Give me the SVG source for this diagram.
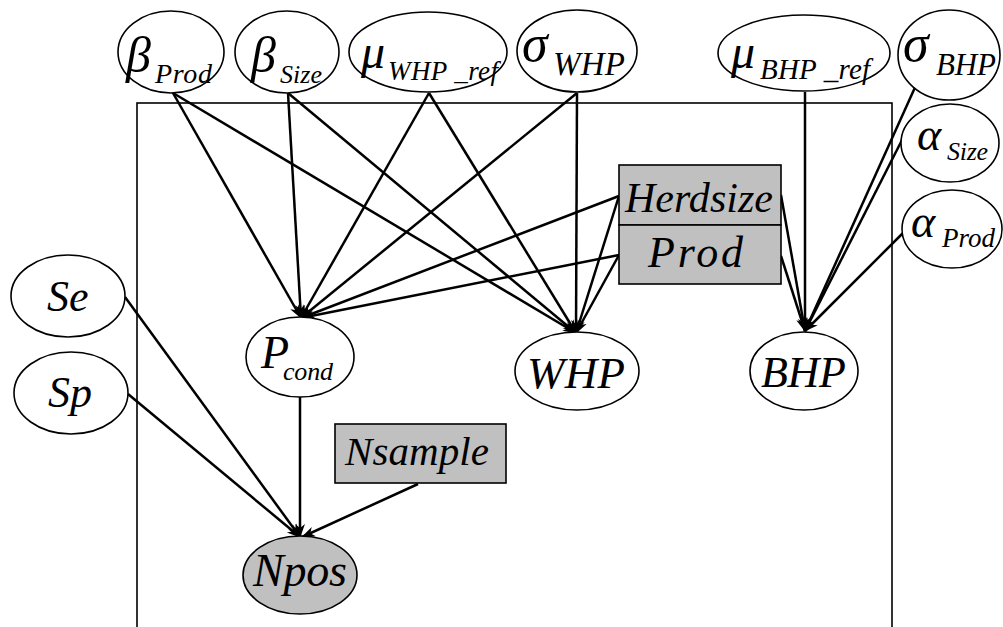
<svg xmlns="http://www.w3.org/2000/svg" width="1003" height="627" viewBox="0 0 1003 627" font-family="Liberation Serif, Times New Roman, serif" font-style="italic">
<style>
.n{fill:#fff;stroke:#000;stroke-width:1.6}
.g{fill:#c0c0c0;stroke:#000;stroke-width:1.6}
.c line{stroke:#000;stroke-width:2.5;marker-end:url(#ah)}
</style>
<defs>
<marker id="ah" markerWidth="14" markerHeight="12" refX="13" refY="6" orient="auto" markerUnits="userSpaceOnUse">
<path d="M0,1 L14,6 L0,11 L4,6 Z" fill="#000"/>
</marker>
</defs>
<rect x="137" y="103" width="755" height="540" fill="none" stroke="#000" stroke-width="1.6"/>
<g class="c">
<line x1="173" y1="93" x2="301" y2="318"/>
<line x1="173" y1="93" x2="576" y2="333"/>
<line x1="288" y1="93" x2="301" y2="318"/>
<line x1="288" y1="93" x2="576" y2="333"/>
<line x1="429" y1="93" x2="301" y2="318"/>
<line x1="429" y1="93" x2="576" y2="333"/>
<line x1="577" y1="93" x2="301" y2="318"/>
<line x1="577" y1="93" x2="576" y2="333"/>
<line x1="619" y1="196" x2="301" y2="318"/>
<line x1="619" y1="196" x2="576" y2="333"/>
<line x1="619" y1="255" x2="301" y2="318"/>
<line x1="619" y1="255" x2="576" y2="333"/>
<line x1="781" y1="195" x2="805" y2="331"/>
<line x1="781" y1="256" x2="805" y2="331"/>
<line x1="805" y1="92" x2="805" y2="331"/>
<line x1="917" y1="83" x2="805" y2="331"/>
<line x1="902" y1="140" x2="805" y2="331"/>
<line x1="904" y1="232" x2="805" y2="331"/>
<line x1="125" y1="297" x2="300" y2="537"/>
<line x1="128" y1="394" x2="300" y2="537"/>
<line x1="300" y1="397" x2="300" y2="537"/>
<line x1="418" y1="484" x2="302" y2="537"/>
</g>
<g id="beta_prod"><ellipse class="n" cx="171" cy="52" rx="53" ry="41"/><text x="126" y="72" font-size="50">β</text><text x="155" y="83" font-size="28" textLength="57">Prod</text></g>
<g id="beta_size"><ellipse class="n" cx="287" cy="52" rx="52" ry="41"/><text x="251" y="72" font-size="50">β</text><text x="280" y="83" font-size="26" textLength="42">Size</text></g>
<g id="mu_whp"><ellipse class="n" cx="428" cy="52" rx="79" ry="40"/><text x="361" y="68" font-size="48">μ</text><text x="388" y="80" font-size="27" textLength="110">WHP _ref</text></g>
<g id="sigma_whp"><ellipse class="n" cx="577" cy="51" rx="60" ry="41"/><text x="522" y="61" font-size="52">σ</text><text x="553" y="75" font-size="33" textLength="72">WHP</text></g>
<g id="mu_bhp"><ellipse class="n" cx="804" cy="53" rx="86" ry="38"/><text x="731" y="68" font-size="48">μ</text><text x="760" y="79" font-size="29" textLength="110">BHP _ref</text></g>
<g id="sigma_bhp"><ellipse class="n" cx="949" cy="55" rx="51" ry="45"/><text x="903" y="61" font-size="52">σ</text><text x="936" y="75" font-size="31" textLength="60">BHP</text></g>
<g id="alpha_size"><ellipse class="n" cx="950" cy="143" rx="49" ry="39"/><text x="917" y="150" font-size="46">α</text><text x="947" y="160" font-size="26" textLength="41">Size</text></g>
<g id="alpha_prod"><ellipse class="n" cx="952" cy="229" rx="50" ry="39"/><text x="911" y="237" font-size="46">α</text><text x="942" y="247" font-size="27" textLength="53">Prod</text></g>
<g id="herdsize"><rect class="g" x="619" y="165" width="162" height="60"/><text x="625" y="212" font-size="42" textLength="148">Herdsize</text></g>
<g id="prod"><rect class="g" x="619" y="225" width="162" height="59"/><text x="648" y="267" font-size="44" textLength="95">Prod</text></g>
<g id="pcond"><ellipse class="n" cx="300" cy="357" rx="54" ry="40"/><text x="261" y="368" font-size="46">P</text><text x="283" y="380" font-size="26" textLength="50">cond</text></g>
<g id="whp"><ellipse class="n" cx="577" cy="371" rx="62" ry="39"/><text x="527" y="388" font-size="45" textLength="98">WHP</text></g>
<g id="bhp"><ellipse class="n" cx="804" cy="371" rx="54" ry="39"/><text x="761" y="387" font-size="44" textLength="85">BHP</text></g>
<g id="se"><ellipse class="n" cx="68" cy="296" rx="57" ry="41"/><text x="47" y="311" font-size="44">Se</text></g>
<g id="sp"><ellipse class="n" cx="71" cy="393" rx="57" ry="41"/><text x="48" y="407" font-size="44">Sp</text></g>
<g id="nsample"><rect class="g" x="335" y="424" width="171" height="59"/><text x="345" y="465" font-size="41" textLength="144">Nsample</text></g>
<g id="npos"><ellipse class="g" cx="300" cy="575" rx="57" ry="39"/><text x="253" y="586" font-size="46" textLength="94">Npos</text></g>
</svg>
